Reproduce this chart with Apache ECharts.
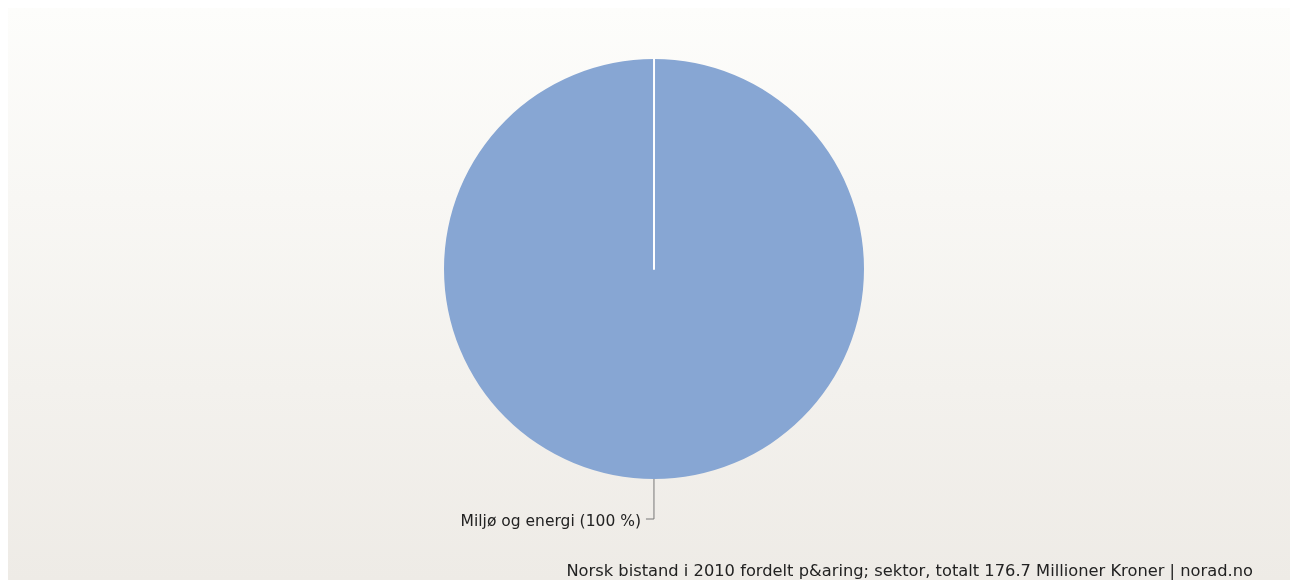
<!DOCTYPE html>
<html><head><meta charset="utf-8">
<script src="https://cdn.jsdelivr.net/npm/echarts@6/dist/echarts.min.js"></script>
<style>
html,body{margin:0;padding:0;background:#fff;}
#c{position:absolute;left:8px;top:8px;width:1282px;height:572px;}
</style></head><body>
<div id="c"></div>
<script>
const categories = ['Miljø og energi', ''];
const values = [176.7, 0];
const percentLabels = ['100 %', ''];
const titleText = 'Norsk bistand i 2010 fordelt p&aring; sektor, totalt 176.7 Millioner Kroner | norad.no';

const chart = echarts.init(document.getElementById('c'), null, {renderer: 'canvas'});
const data = categories.map((name, i) => ({
  name: name,
  value: values[i],
  pct: percentLabels[i],
  itemStyle: i === 0 ? {color: '#87a6d3'} : {color: '#87a6d3', borderColor: '#ffffff', borderWidth: 2},
  label: {show: i === 0},
  labelLine: {show: i === 0}
}));
chart.setOption({
  backgroundColor: new echarts.graphic.LinearGradient(0, 0, 0, 1, [
    {offset: 0, color: '#fdfdfb'},
    {offset: 1, color: '#eeebe6'}
  ]),
  animation: false,
  title: {
    text: titleText,
    right: 32,
    top: 551,
    textStyle: {fontFamily: 'DejaVu Sans', fontSize: 16.3, fontWeight: 'normal', color: '#222'}
  },
  series: [{
    type: 'pie',
    center: [646, 261],
    radius: 210,
    startAngle: 89.99,
    clockwise: true,
    minAngle: 0,
    avoidLabelOverlap: false,
    label: {
      show: true,
      position: 'outside',
      formatter: p => p.name + ' (' + p.data.pct + ')',
      fontFamily: 'DejaVu Sans',
      fontSize: 15.5,
      color: '#222',
      offset: [0, 3],
      distanceToLabelLine: 5
    },
    labelLine: {
      show: true,
      length: 40,
      length2: 8,
      lineStyle: {color: '#777', width: 1}
    },
    emphasis: {disabled: true},
    data: data
  }]
});
</script>
</body></html>
